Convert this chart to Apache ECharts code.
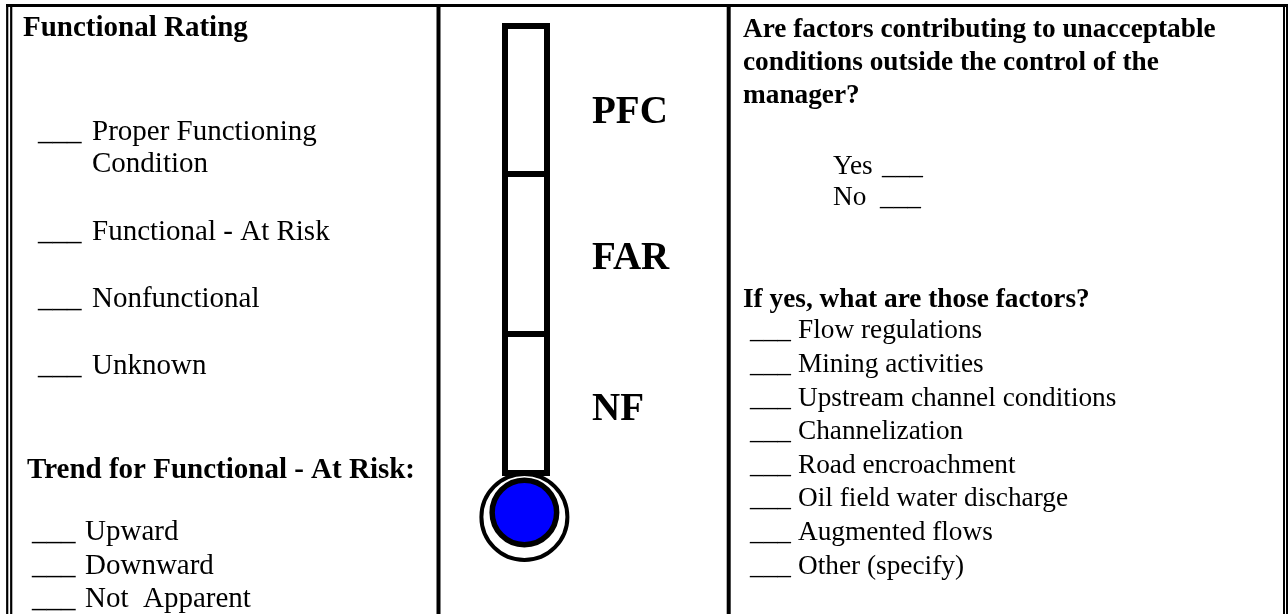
<!DOCTYPE html>
<html><head><meta charset="utf-8">
<script src="https://cdn.jsdelivr.net/npm/echarts@6/dist/echarts.min.js"></script>
<style>html,body{margin:0;padding:0;background:#fff}#chart{width:1288px;height:614px}</style>
</head><body><div id="chart"></div>
<script>
// ---- data ----
const zones = ['NF', 'FAR', 'PFC'];
const zoneValues = [142, 160, 151];          // thermometer segments (bottom to top)
const bulbRingValue = -41;                   // bulb ring centre
const bulbFillValue = -36.5;                 // blue bulb centre
const ratingTitle = 'Functional Rating';
const ratingOptions = ['Proper Functioning', 'Functional - At Risk', 'Nonfunctional', 'Unknown'];
const ratingContinuation = 'Condition';
const trendTitle = 'Trend for Functional - At Risk:';
const trendOptions = ['Upward', 'Downward', 'Not  Apparent'];
const questionLines = ['Are factors contributing to unacceptable', 'conditions outside the control of the', 'manager?'];
const answerOptions = ['Yes', 'No'];
const factorTitle = 'If yes, what are those factors?';
const factorOptions = ['Flow regulations', 'Mining activities', 'Upstream channel conditions', 'Channelization',
  'Road encroachment', 'Oil field water discharge', 'Augmented flows', 'Other (specify)'];
const blank = '___';

// ---- helpers ----
const FONT = '"Liberation Serif", "Times New Roman", serif';
function T(x, baseline, text, fs, bold) {
  return {
    type: 'text', x: x, y: baseline - 0.3375 * fs + 2.5, silent: true,
    style: { text: text, fontSize: fs, fontFamily: FONT, fontWeight: bold ? 'bold' : 'normal',
      fill: '#000', align: 'left', verticalAlign: 'middle', textAlign: 'left', textVerticalAlign: 'middle' }
  };
}
function L(x1, y1, x2, y2, w) {
  return { type: 'line', silent: true, shape: { x1: x1, y1: y1, x2: x2, y2: y2 }, style: { stroke: '#000', lineWidth: w } };
}

const g = [];
// frame
g.push(L(6, 5.5, 1288, 5.5, 3));
g.push(L(7.2, 4, 7.2, 614, 2.2));
g.push(L(11.2, 5, 11.2, 614, 2.2));
g.push(L(1284, 4, 1284, 614, 2));
g.push(L(1287, 4, 1287, 614, 2));
g.push(L(438.5, 5, 438.5, 614, 4));
g.push(L(728.7, 5, 728.7, 614, 4));

// left column
const LF = 29;
g.push(T(23, 36, ratingTitle, LF, true));
const ratingBase = [140, 240, 307, 374];
ratingOptions.forEach((t, i) => { g.push(T(38, ratingBase[i], blank, LF)); g.push(T(92, ratingBase[i], t, LF)); });
g.push(T(92, 171.5, ratingContinuation, LF));
g.push(T(27, 477.5, trendTitle, LF, true));
const trendBase = [540, 573.5, 607];
trendOptions.forEach((t, i) => { g.push(T(32, trendBase[i], blank, LF)); g.push(T(85, trendBase[i], t, LF)); });

// thermometer labels
const zoneLabelBase = [421, 270, 124];
zones.forEach((z, i) => g.push(T(592, zoneLabelBase[i], z, 39, true)));

// right column
const RF = 27.3;
questionLines.forEach((t, i) => g.push(T(743, 36.5 + 33 * i, t, RF, true)));
const ansBase = [173.5, 204.5];
const ansBlankX = [882, 880];
answerOptions.forEach((t, i) => { g.push(T(833, ansBase[i], t, RF)); g.push(T(ansBlankX[i], ansBase[i], blank, RF)); });
g.push(T(743, 306.5, factorTitle, RF, true));
factorOptions.forEach((t, i) => { const b = 338 + 33.6 * i; g.push(T(750, b, blank, RF)); g.push(T(798, b, t, RF)); });

// ---- chart ----
const total = zoneValues.reduce((a, b) => a + b, 0);
const series = zones.map((z, i) => ({
  type: 'bar', name: z, stack: 'tube', barWidth: '100%', silent: true,
  data: [zoneValues[i]],
  itemStyle: { color: '#fff', borderColor: '#000', borderWidth: 3 }
}));
series.push({
  type: 'bar', name: 'outline', barWidth: '100%', barGap: '-100%', silent: true,
  data: [total],
  itemStyle: { color: 'rgba(0,0,0,0)', borderColor: '#000', borderWidth: 6 }
});
series.push({
  type: 'scatter', name: 'ring', clip: false, silent: true, symbol: 'circle', symbolSize: 86, symbolOffset: [-1.6, 0],
  data: [[0, bulbRingValue]],
  itemStyle: { color: '#fff', borderColor: '#000', borderWidth: 4, opacity: 1 }
});
series.push({
  type: 'scatter', name: 'bulb', clip: false, silent: true, symbol: 'circle', symbolSize: 64.5, symbolOffset: [-1.6, 0],
  data: [[0, bulbFillValue]],
  itemStyle: { color: '#0000ff', borderColor: '#000', borderWidth: 5.5, opacity: 1 }
});

const chart = echarts.init(document.getElementById('chart'), null, { renderer: 'canvas' });
chart.setOption({
  animation: false,
  backgroundColor: '#fff',
  grid: { left: 502, width: 48, top: 23, height: 553 },
  xAxis: { type: 'category', data: ['thermometer'], show: false },
  yAxis: { type: 'value', min: -100, max: total, show: false },
  series: series,
  graphic: { elements: g }
});
</script></body></html>
